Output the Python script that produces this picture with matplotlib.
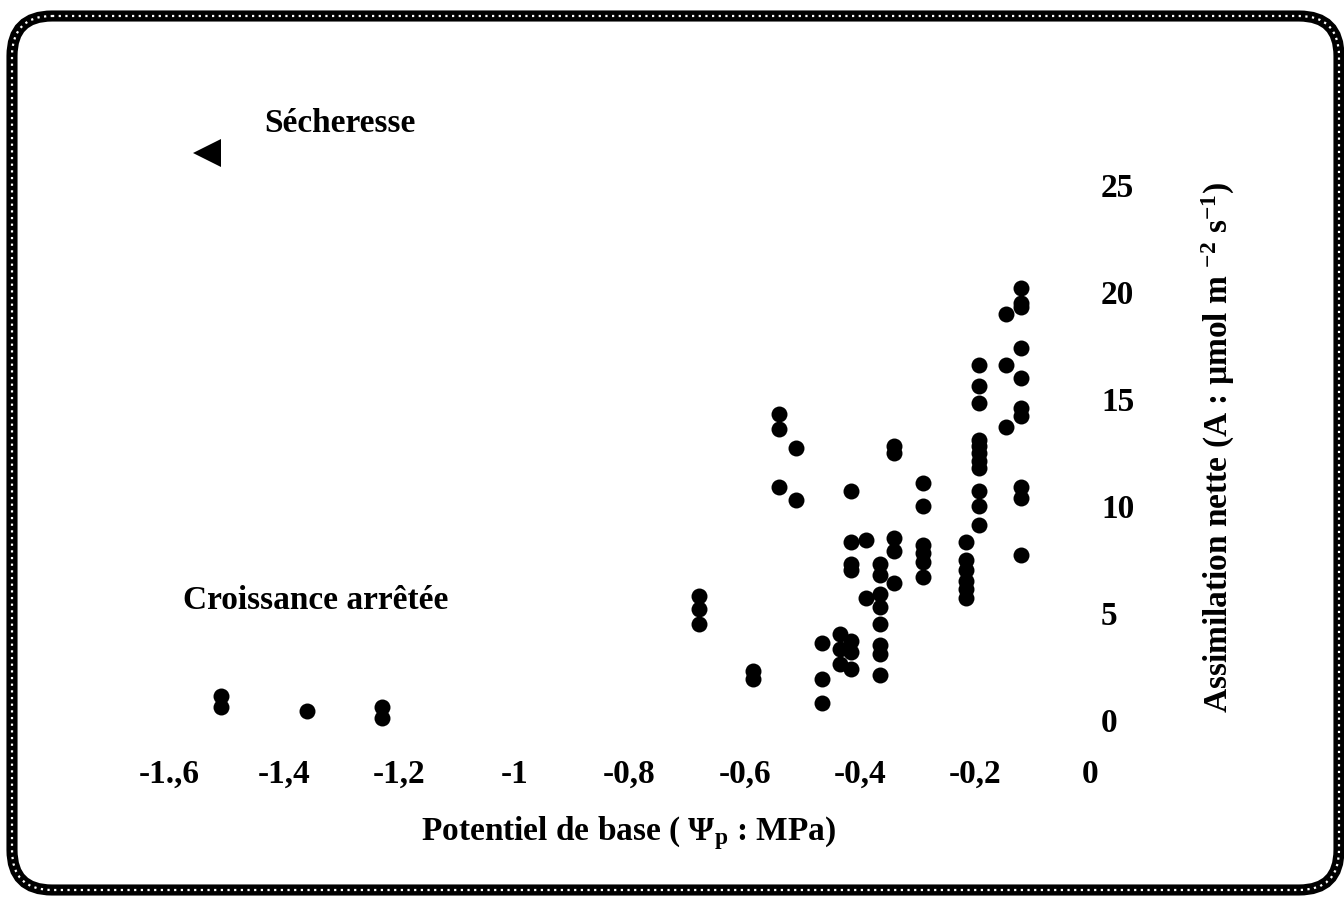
import matplotlib.pyplot as plt
from matplotlib.patches import FancyBboxPatch

# Potentiel de base (MPa) et assimilation nette (µmol m-2 s-1)
psi_b = [-1.51, -1.51,
         -1.36,
         -1.23, -1.23,
         -0.68, -0.68, -0.68,
         -0.585, -0.585,
         -0.54, -0.54, -0.54,
         -0.51, -0.51,
         -0.465, -0.465, -0.465,
         -0.435, -0.435, -0.435,
         -0.415, -0.415, -0.415, -0.415, -0.415, -0.415, -0.415,
         -0.39, -0.39,
         -0.365, -0.365, -0.365, -0.365, -0.365, -0.365, -0.365, -0.365,
         -0.34, -0.34, -0.34, -0.34, -0.34,
         -0.29, -0.29, -0.29, -0.29, -0.29, -0.29,
         -0.215, -0.215, -0.215, -0.215, -0.215, -0.215,
         -0.193, -0.193, -0.193, -0.193, -0.193, -0.193, -0.193, -0.193,
         -0.193, -0.193, -0.193,
         -0.146, -0.146, -0.146,
         -0.12, -0.12, -0.12, -0.12, -0.12, -0.12, -0.12, -0.12, -0.12,
         -0.12]
assim = [1.1, 0.6,
         0.4,
         0.6, 0.1,
         5.8, 5.2, 4.5,
         2.3, 1.9,
         14.3, 13.6, 10.9,
         12.7, 10.3,
         3.6, 1.9, 0.8,
         4.0, 3.3, 2.6,
         3.7, 3.2, 2.4, 10.7, 8.3, 7.3, 7.0,
         8.4, 5.7,
         7.3, 6.8, 5.9, 5.3, 4.5, 3.5, 3.1, 2.1,
         12.8, 12.5, 8.5, 7.9, 6.4,
         11.1, 10.0, 8.2, 7.8, 7.4, 6.7,
         8.3, 7.5, 7.0, 6.5, 6.1, 5.7,
         16.6, 15.6, 14.8, 13.1, 12.8, 12.5, 12.1, 11.8,
         10.7, 10.0, 9.1,
         19.0, 16.6, 13.7,
         20.2, 19.5, 19.3, 17.4, 16.0, 14.6, 14.2, 10.9, 10.4,
         7.7]

xticks = [-1.6, -1.4, -1.2, -1.0, -0.8, -0.6, -0.4, -0.2, 0.0]
xticklabels = ['-1.,6', '-1,4', '-1,2', '-1', '-0,8', '-0,6', '-0,4', '-0,2', '0']
yticks = [0, 5, 10, 15, 20, 25]

FS = 24

plt.rcParams['font.family'] = ['Liberation Serif', 'DejaVu Serif']
plt.rcParams['font.weight'] = 'bold'
plt.rcParams['mathtext.fontset'] = 'custom'
plt.rcParams['mathtext.rm'] = 'Liberation Serif:bold'
plt.rcParams['mathtext.it'] = 'Liberation Serif:bold'
plt.rcParams['mathtext.bf'] = 'Liberation Serif:bold'

W, H = 1344, 898
fig = plt.figure(figsize=(W / 100, H / 100), dpi=100)

# cadre arrondi autour de la figure
bg = fig.add_axes([0, 0, 1, 1], zorder=0)
bg.set_xlim(0, W)
bg.set_ylim(H, 0)
bg.axis('off')
frame = FancyBboxPatch((12, 16), 1327, 874, boxstyle='round,pad=0,rounding_size=40',
                       fc='none', ec='black', lw=8)
bg.add_patch(frame)
stripes = FancyBboxPatch((12, 16), 1327, 874, boxstyle='round,pad=0,rounding_size=40',
                         fc='none', ec='white', lw=1.6, linestyle=(0, (1.0, 2.0)))
bg.add_patch(stripes)

left, right = 111.5, 1090
bottom, top = 752, 164
ax = fig.add_axes([left / W, (H - bottom) / H, (right - left) / W, (bottom - top) / H], zorder=1)
ax.patch.set_alpha(0)

ax.plot(psi_b, assim, 'o', color='black', markersize=11.5, markeredgewidth=0)

ax.set_xlim(-1.7, 0.0)
ax.set_ylim(-1.5, 26)
for s in ax.spines.values():
    s.set_visible(False)

ax.set_xticks(xticks)
ax.set_xticklabels(xticklabels)
ax.yaxis.tick_right()
ax.set_yticks(yticks)
ax.tick_params(axis='both', length=0, labelsize=FS)
ax.tick_params(axis='x', pad=5)
ax.tick_params(axis='y', pad=8)

ax.set_xlabel(r'Potentiel de base ( $\Psi_{p}$ : MPa)', fontsize=FS, fontweight='bold')
ax.xaxis.set_label_coords(0.528, -0.105)
ax.yaxis.set_label_position('right')
ax.set_ylabel(r'Assimilation nette (A : µmol m $^{-2}$ s$^{-1}$)', fontsize=FS, fontweight='bold')
ax.yaxis.set_label_coords(1.112, 0.517)

# annotations
ax.text(-1.303, 27.9, 'Sécheresse', fontsize=FS, fontweight='bold',
        ha='center', va='center', clip_on=False)
ax.plot([-1.534], [26.5], marker='<', color='black', markersize=20,
        markeredgewidth=0, clip_on=False)
ax.text(-1.346, 5.6, 'Croissance arrêtée', fontsize=FS, fontweight='bold',
        ha='center', va='center')

fig.savefig('out.png', dpi=100)
